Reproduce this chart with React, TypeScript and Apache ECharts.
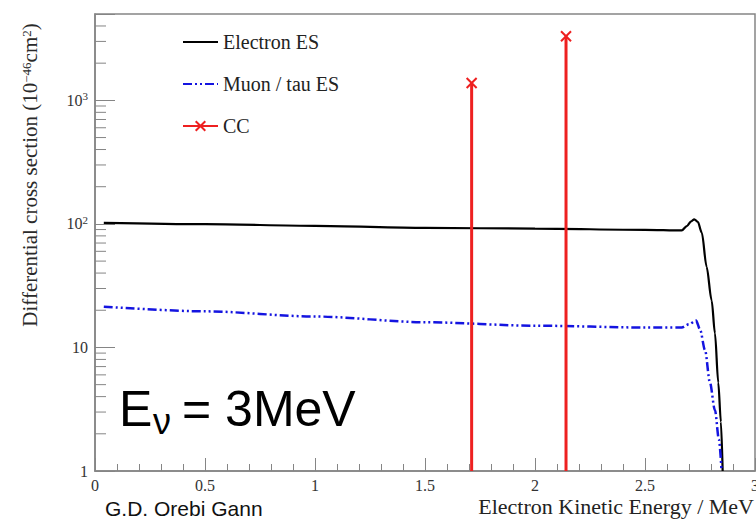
import React, { useEffect, useRef } from "react";
import * as echarts from "echarts";

// Electron elastic scattering: kinetic energy (MeV) vs differential cross section (1e-46 cm^2)
const electronE = [0.04, 0.5, 1.0, 1.5, 2.0, 2.5, 2.667, 2.69, 2.71, 2.724, 2.74, 2.758, 2.78, 2.803, 2.818, 2.833, 2.845, 2.853];
const electronSigma = [102, 99.5, 96.5, 93, 91.5, 89.5, 88.5, 96, 105, 109, 104, 85, 45, 24, 13, 5.2, 2.5, 1];

// Muon / tau elastic scattering
const muonE = [0.04, 0.5, 1.0, 1.5, 2.0, 2.5, 2.667, 2.7, 2.732, 2.75, 2.773, 2.795, 2.818, 2.836, 2.848];
const muonSigma = [21.4, 19.6, 17.8, 16.0, 15.0, 14.5, 14.5, 15.4, 16.5, 14, 9.5, 5.2, 3.1, 1.8, 1];

// Charged-current lines
const ccE = [1.712, 2.141];
const ccSigma = [1380, 3300];

// Axis settings
const xTickLabels = ["0", "0.5", "1", "1.5", "2", "2.5", "3"];
const yMinorTicks = [2, 3, 4, 5, 6, 7, 8, 9, 20, 30, 40, 50, 60, 70, 80, 90, 200, 300, 400, 500, 600, 700, 800, 900, 2000, 3000, 4000];

const SERIF = "Liberation Serif";
const SANS = "Liberation Sans";
const AXIS_GREY = "#858585";
const X_SYMBOL = "path://M0,0L10,10M10,0L0,10";

export default function App() {
  const ref = useRef<HTMLDivElement>(null);

  useEffect(() => {
    if (!ref.current) return;
    const chart = echarts.init(ref.current, undefined, { renderer: "svg" });

    const ccSeries = ccE.map((e, i) => ({
      name: "CC",
      type: "line",
      data: [
        { value: [e, 1], symbol: "none" },
        { value: [e, ccSigma[i]] },
      ],
      symbol: X_SYMBOL,
      symbolSize: 10,
      lineStyle: { color: "#ee2020", width: 3 },
      itemStyle: { color: "#ee2020", borderColor: "#ee2020", borderWidth: 2 },
      z: 3,
    }));

    chart.setOption({
      animation: false,
      backgroundColor: "#ffffff",
      grid: {
        left: 95,
        right: 1,
        top: 14,
        bottom: 49,
        show: true,
        borderColor: AXIS_GREY,
        borderWidth: 1.5,
        containLabel: false,
        outerBoundsMode: "none",
      },
      legend: {
        data: [
          // plain line keys: hide the marker the line legend adds by default
          { name: "Electron ES", itemStyle: { opacity: 0 } },
          { name: "Muon / tau ES", itemStyle: { opacity: 0 } },
          { name: "CC" },
        ],
        orient: "vertical",
        left: 177,
        top: 27,
        itemWidth: 35,
        itemHeight: 12,
        itemGap: 22,
        selectedMode: false,
        textStyle: { fontFamily: SERIF, fontSize: 20, color: "#222", lineHeight: 20 },
      },
      xAxis: {
        type: "value",
        min: 0,
        max: 3,
        interval: 0.5,
        splitLine: { show: false },
        axisLine: { lineStyle: { color: AXIS_GREY, width: 1.5 } },
        axisTick: { inside: true, length: 13, lineStyle: { color: AXIS_GREY } },
        minorTick: { show: true, splitNumber: 5, length: 7, lineStyle: { color: AXIS_GREY } },
        axisLabel: {
          fontFamily: SERIF,
          fontSize: 16,
          color: "#333",
          margin: 6,
          formatter: (v: number) => xTickLabels[Math.round(v * 2)] ?? "",
        },
      },
      yAxis: {
        type: "log",
        logBase: 10,
        min: 1,
        max: 5000,
        interval: 1,
        splitLine: { show: false },
        axisLine: { lineStyle: { color: AXIS_GREY, width: 1.5 } },
        axisTick: { inside: true, length: 20, lineStyle: { color: AXIS_GREY } },
        axisLabel: {
          fontFamily: SERIF,
          fontSize: 16,
          color: "#333",
          margin: 7,
          formatter: (v: number) => {
            const p = Math.log10(v);
            const n = Math.round(p);
            if (Math.abs(p - n) > 1e-6) return "";
            if (n === 0) return "1";
            if (n === 1) return "10";
            return "10{sup|" + n + "}";
          },
          rich: {
            sup: { fontFamily: SERIF, fontSize: 11, color: "#333", verticalAlign: "top", padding: [0, 0, 8, 0] },
          },
        },
      },
      series: [
        {
          name: "Electron ES",
          type: "line",
          data: electronE.map((e, i) => [e, electronSigma[i]]),
          showSymbol: false,
          symbol: "none",
          smooth: 0.3,
          smoothMonotone: "x",
          lineStyle: { color: "#000000", width: 2.2 },
          itemStyle: { color: "#000000" },
          z: 2,
        },
        {
          name: "Muon / tau ES",
          type: "line",
          data: muonE.map((e, i) => [e, muonSigma[i]]),
          showSymbol: false,
          symbol: "none",
          smooth: 0.3,
          smoothMonotone: "x",
          lineStyle: { color: "#1414e0", width: 2.5, type: [9, 3, 2, 3, 2, 3] },
          itemStyle: { color: "#1414e0" },
          z: 2,
        },
        ...ccSeries,
        {
          // ROOT-style minor ticks on the log axis (2..9 per decade)
          type: "custom",
          silent: true,
          data: yMinorTicks.map((t) => [0, t]),
          renderItem: (_params: any, api: any) => {
            const p = api.coord([0, api.value(1)]);
            return {
              type: "line",
              shape: { x1: p[0], y1: p[1], x2: p[0] + 11, y2: p[1] },
              style: { stroke: AXIS_GREY, lineWidth: 1 },
            };
          },
          z: 1,
        },
      ],
      graphic: [
        {
          type: "text",
          x: 30,
          y: 175,
          rotation: Math.PI / 2,
          style: {
            text: "Differential cross section (10{sup|−46}cm{sup|2})",
            fontFamily: SERIF,
            fontSize: 21,
            fill: "#2a2a2a",
            align: "center",
            verticalAlign: "middle",
            rich: {
              sup: { fontFamily: SERIF, fontSize: 13, fill: "#2a2a2a", verticalAlign: "top" },
            },
          },
        },
        {
          type: "text",
          x: 754,
          y: 506,
          style: {
            text: "Electron Kinetic Energy / MeV",
            fontFamily: SERIF,
            fontSize: 22,
            fill: "#222",
            align: "right",
            verticalAlign: "middle",
          },
        },
        {
          type: "text",
          x: 105,
          y: 508,
          style: {
            text: "G.D. Orebi Gann",
            fontFamily: SANS,
            fontSize: 21,
            fill: "#111",
            align: "left",
            verticalAlign: "middle",
          },
        },
        {
          type: "text",
          x: 119,
          y: 409,
          style: {
            text: "E",
            fontFamily: SANS,
            fontSize: 50,
            fill: "#000",
            align: "left",
            verticalAlign: "middle",
          },
        },
        {
          type: "text",
          x: 153,
          y: 421,
          style: {
            text: "ν",
            fontFamily: SANS,
            fontSize: 36,
            fill: "#000",
            align: "left",
            verticalAlign: "middle",
          },
        },
        {
          type: "text",
          x: 182,
          y: 409,
          style: {
            text: "= 3MeV",
            fontFamily: SANS,
            fontSize: 50,
            fill: "#000",
            align: "left",
            verticalAlign: "middle",
          },
        },
      ],
    });

    return () => chart.dispose();
  }, []);

  return (
    <div
      ref={ref}
      style={{ position: "fixed", left: 0, top: 0, width: 756, height: 520 }}
    />
  );
}
